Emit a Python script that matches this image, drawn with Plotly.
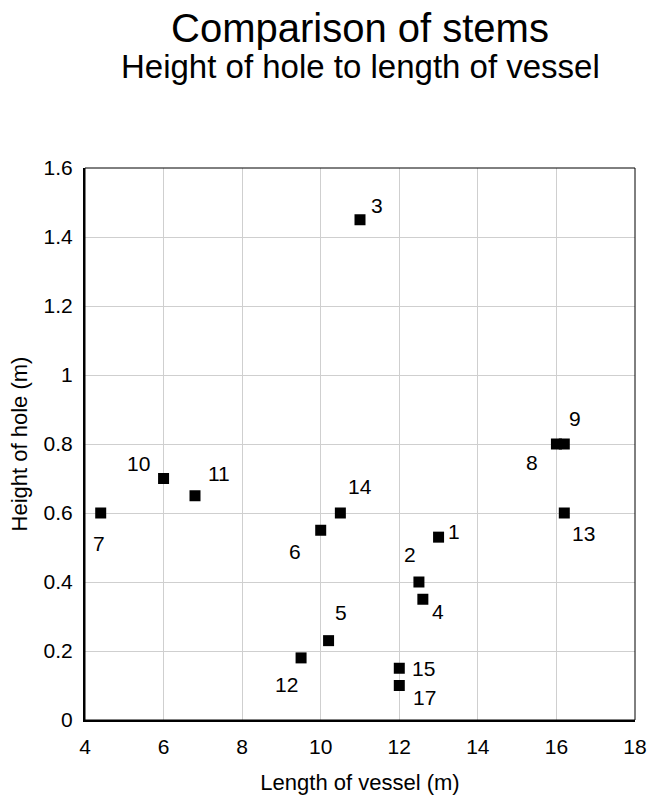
import plotly.graph_objects as go

# ---- data ----
stem_ids = ["1", "2", "3", "4", "5", "6", "7", "8", "9", "10", "11", "12", "13", "14", "15", "17"]
vessel_length = [13.0, 12.5, 11.0, 12.6, 10.2, 10.0, 4.4, 16.0, 16.2, 6.0, 6.8, 9.5, 16.2, 10.5, 12.0, 12.0]
hole_height = [0.53, 0.40, 1.45, 0.35, 0.23, 0.55, 0.60, 0.80, 0.80, 0.70, 0.65, 0.18, 0.60, 0.60, 0.15, 0.10]

x_ticks = [4, 6, 8, 10, 12, 14, 16, 18]
y_ticks = [0, 0.2, 0.4, 0.6, 0.8, 1.0, 1.2, 1.4, 1.6]

title_text = "Comparison of stems"
subtitle_text = "Height of hole to length of vessel"
x_title = "Length of vessel (m)"
y_title = "Height of hole (m)"

# ---- style: label offsets in screen pixels (dx right, dy down) ----
label_offsets = {
    "1": (15, -6), "2": (-9, -28), "3": (17, -14), "4": (15, 12),
    "5": (12, -28), "6": (-26, 21), "7": (-2, 30), "8": (-24, 18),
    "9": (11, -26), "10": (-25, -15), "11": (24, -22), "12": (-15, 27),
    "13": (19, 20), "14": (20, -27), "15": (24, 0), "17": (25, 12),
}

FONT = "Liberation Sans, Arial, sans-serif"
FIG_W, FIG_H = 656, 796
PLOT_LEFT, PLOT_RIGHT = 85, 635
PLOT_TOP, PLOT_BOTTOM = 168, 720
PLOT_H = PLOT_BOTTOM - PLOT_TOP

fig = go.Figure()
fig.add_trace(go.Scatter(
    x=vessel_length, y=hole_height, mode="markers",
    marker=dict(symbol="square", size=11, color="black", line=dict(width=0)),
    hoverinfo="skip", showlegend=False,
))

annotations = []
for sid, xv, yv in zip(stem_ids, vessel_length, hole_height):
    dx, dy = label_offsets[sid]
    annotations.append(dict(
        x=xv, y=yv, xref="x", yref="y", text=sid, showarrow=False,
        xshift=dx, yshift=-dy, xanchor="center", yanchor="middle",
        font=dict(family=FONT, size=21, color="black"),
    ))

annotations.append(dict(
    text=title_text, xref="paper", yref="paper", x=0.5,
    y=(PLOT_BOTTOM - 28) / PLOT_H,
    xanchor="center", yanchor="middle", showarrow=False,
    font=dict(family=FONT, size=40, color="black"),
))
annotations.append(dict(
    text=subtitle_text, xref="paper", yref="paper", x=0.5,
    y=(PLOT_BOTTOM - 66) / PLOT_H,
    xanchor="center", yanchor="middle", showarrow=False,
    font=dict(family=FONT, size=33, color="black"),
))

fig.update_layout(
    template="none",
    width=FIG_W, height=FIG_H,
    margin=dict(l=PLOT_LEFT, r=FIG_W - PLOT_RIGHT, t=PLOT_TOP, b=FIG_H - PLOT_BOTTOM, pad=0),
    paper_bgcolor="white", plot_bgcolor="white",
    font=dict(family=FONT, size=20, color="black"),
    annotations=annotations,
    shapes=[dict(type="rect", xref="paper", yref="paper", x0=0, y0=0, x1=1, y1=1,
                 line=dict(color="black", width=1), layer="above")],
)

fig.update_xaxes(
    range=[4, 18], tickvals=x_ticks, showgrid=True, gridcolor="#cfcfcf", gridwidth=1,
    zeroline=False, showline=True, linecolor="black", linewidth=2, mirror=False,
    ticks="", ticklabelstandoff=7, tickfont=dict(size=21), automargin=False,
    title=dict(text=x_title, font=dict(size=22), standoff=17),
)
fig.update_yaxes(
    range=[0, 1.6], tickvals=y_ticks, showgrid=True, gridcolor="#cfcfcf", gridwidth=1,
    zeroline=False, showline=True, linecolor="black", linewidth=2, mirror=False,
    ticks="", ticklabelstandoff=6, tickfont=dict(size=21), automargin=False,
    title=dict(text=y_title, font=dict(size=22), standoff=10),
)

fig.write_html("out.html", config={"displayModeBar": False},
               post_script="document.body.style.margin='0px';")
